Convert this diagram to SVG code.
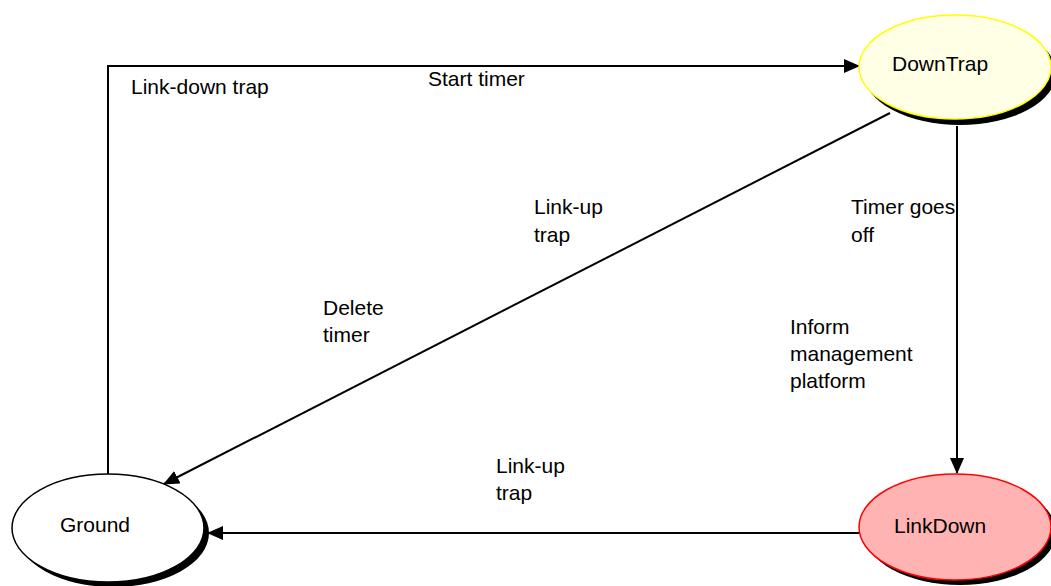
<svg xmlns="http://www.w3.org/2000/svg" width="1051" height="586" viewBox="0 0 1051 586">
<style>
text{font-family:"Liberation Sans",Arial,sans-serif;font-size:21px;fill:#000}
.edge{fill:none;stroke:#000;stroke-width:2}
.shadow{fill:#000}
</style>
<defs>
<marker id="arr" markerWidth="16" markerHeight="14" refX="15" refY="7" orient="auto" markerUnits="userSpaceOnUse">
<path d="M0,0 L16,7 L0,14 Z" fill="#000"/>
</marker>
</defs>
<rect width="1051" height="586" fill="#fff"/>
<g id="connectors">
<path class="edge" d="M108,474 L108,66 L859,66" marker-end="url(#arr)"/>
<path class="edge" d="M890,113 L164,484" stroke-width="1.5" marker-end="url(#arr)"/>
<path class="edge" d="M957,126 L957,473" marker-end="url(#arr)"/>
<path class="edge" d="M859,533 L208,533" marker-end="url(#arr)"/>
<text x="131" y="94">Link-down trap</text>
<text x="428" y="86">Start timer</text>
<text x="534" y="214">Link-up</text>
<text x="534" y="242">trap</text>
<text x="323" y="315">Delete</text>
<text x="323" y="342">timer</text>
<text x="851" y="214">Timer goes</text>
<text x="851" y="242">off</text>
<text x="790" y="334">Inform</text>
<text x="790" y="361">management</text>
<text x="790" y="388">platform</text>
<text x="496" y="473">Link-up</text>
<text x="496" y="500">trap</text>
</g>
<g id="DownTrap">
<ellipse class="shadow" cx="960" cy="73" rx="96" ry="52"/>
<ellipse cx="955" cy="67" rx="96" ry="52" fill="#FFFFE6" stroke="#FFFF00" stroke-width="1.5"/>
<text x="892" y="71">DownTrap</text>
</g>
<g id="Ground">
<ellipse class="shadow" cx="113" cy="533" rx="96" ry="54"/>
<ellipse cx="108" cy="528" rx="96" ry="54" fill="#fff" stroke="#000" stroke-width="1.5"/>
<text x="60" y="532">Ground</text>
</g>
<g id="LinkDown">
<ellipse class="shadow" cx="960" cy="532" rx="96" ry="53"/>
<ellipse cx="955" cy="527" rx="96" ry="53" fill="#FFB3B3" stroke="#FF0000" stroke-width="1.5"/>
<text x="894" y="533">LinkDown</text>
</g>
</svg>
